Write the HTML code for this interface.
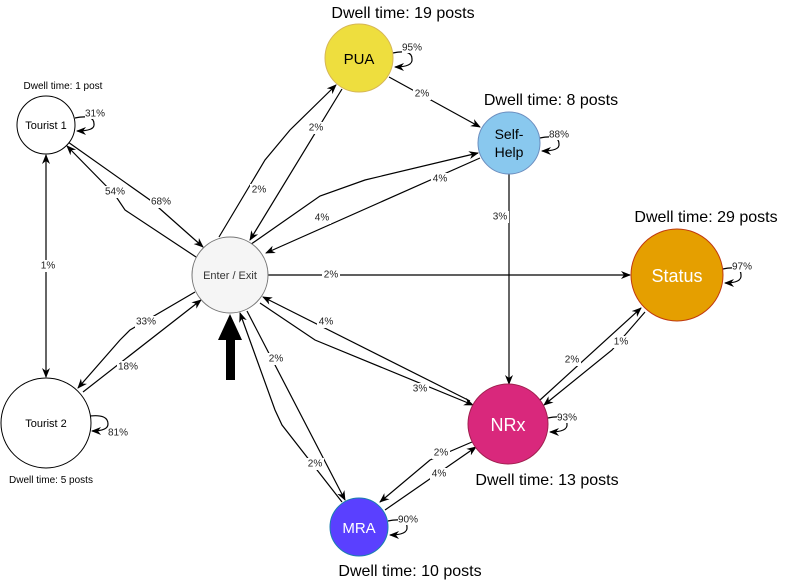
<!DOCTYPE html>
<html><head><meta charset="utf-8"><style>
body{margin:0;background:#fff}
svg{display:block;font-family:"Liberation Sans",Arial,sans-serif}
.e{fill:none;stroke:#000;stroke-width:1.2}
.l{font-size:10px;fill:#222;text-anchor:middle;dominant-baseline:middle}
.d{font-size:16px;fill:#000;text-anchor:middle}
</style></head><body>
<svg width="789" height="581" viewBox="0 0 789 581">
<defs>
<marker id="a" markerWidth="10" markerHeight="10" refX="9" refY="5" orient="auto" markerUnits="userSpaceOnUse">
<path d="M0,1 L10,5 L0,9 L3,5 Z" fill="#000"/></marker>
<marker id="s" markerWidth="10" markerHeight="10" refX="1" refY="5" orient="auto" markerUnits="userSpaceOnUse">
<path d="M10,1 L0,5 L10,9 L7,5 Z" fill="#000"/></marker>
</defs>

<!-- edges -->
<polyline class="e" points="68,142 150,200 203,247" marker-end="url(#a)"/>
<polyline class="e" points="196,257 125,210 115,195 67,146" marker-end="url(#a)"/>
<line class="e" x1="46" y1="155" x2="46" y2="377" marker-start="url(#s)" marker-end="url(#a)"/>
<polyline class="e" points="195,292 130,330 120,340 78,388" marker-end="url(#a)"/>
<line class="e" x1="83" y1="392" x2="201" y2="300" marker-end="url(#a)"/>
<polyline class="e" points="219,237 265,160 290,130 336,85" marker-end="url(#a)"/>
<line class="e" x1="342" y1="89" x2="250" y2="240" marker-end="url(#a)"/>
<line class="e" x1="389" y1="77" x2="480" y2="127" marker-end="url(#a)"/>
<polyline class="e" points="247,247 320,196 365,180 478,153" marker-end="url(#a)"/>
<line class="e" x1="480" y1="158" x2="266" y2="253" marker-end="url(#a)"/>
<line class="e" x1="509" y1="174" x2="509" y2="384" marker-end="url(#a)"/>
<line class="e" x1="268" y1="275" x2="630" y2="275" marker-end="url(#a)"/>
<line class="e" x1="470" y1="401" x2="263" y2="297" marker-end="url(#a)"/>
<polyline class="e" points="260,303 315,340 473,405" marker-end="url(#a)"/>
<line class="e" x1="247" y1="311" x2="345" y2="500" marker-end="url(#a)"/>
<polyline class="e" points="342,502 282,425 275,410 240,313" marker-end="url(#a)"/>
<polyline class="e" points="472,442 430,460 380,502" marker-end="url(#a)"/>
<line class="e" x1="385" y1="510" x2="476" y2="447" marker-end="url(#a)"/>
<line class="e" x1="540" y1="400" x2="641" y2="308" marker-end="url(#a)"/>
<polyline class="e" points="645,312 612,350 544,405" marker-end="url(#a)"/>

<!-- self loops -->
<path class="e" d="M75,118 Q94,114 94,124 Q95,131 77,131" marker-end="url(#a)"/>
<path class="e" d="M90,416 Q108,414 108,424 Q108,431 92,431" marker-end="url(#a)"/>
<path class="e" d="M393,53 Q412,49 412,59 Q413,67 395,67" marker-end="url(#a)"/>
<path class="e" d="M540,138 Q559,134 559,144 Q560,151 542,151" marker-end="url(#a)"/>
<path class="e" d="M723,269 Q741,265 741,275 Q742,283 725,283" marker-end="url(#a)"/>
<path class="e" d="M548,418 Q567,414 567,424 Q568,432 550,432" marker-end="url(#a)"/>
<path class="e" d="M388,521 Q407,517 407,527 Q408,535 390,535" marker-end="url(#a)"/>

<!-- nodes -->
<circle cx="46" cy="125" r="29" fill="#fff" stroke="#000"/>
<circle cx="46" cy="423" r="45" fill="#fff" stroke="#000"/>
<circle cx="230" cy="275" r="38" fill="#f5f5f5" stroke="#777"/>
<circle cx="359" cy="58" r="34" fill="#eede3e" stroke="#d6b656"/>
<circle cx="509" cy="143" r="31" fill="#89c8ee" stroke="#6c8ebf"/>
<circle cx="677" cy="275" r="46" fill="#e59f00" stroke="#c0390f"/>
<circle cx="508" cy="424" r="40" fill="#d9287c" stroke="#a0204f"/>
<circle cx="359" cy="527" r="29" fill="#5a40ff" stroke="#1a7fb0"/>

<text x="46" y="129" font-size="11" text-anchor="middle">Tourist 1</text>
<text x="46" y="427" font-size="11" text-anchor="middle">Tourist 2</text>
<text x="230" y="279" font-size="11" fill="#333" text-anchor="middle">Enter / Exit</text>
<text x="359" y="64" font-size="15" text-anchor="middle">PUA</text>
<text x="509" y="139" font-size="14" text-anchor="middle">Self-</text>
<text x="509" y="157" font-size="14" text-anchor="middle">Help</text>
<text x="677" y="282" font-size="18" fill="#fff" text-anchor="middle">Status</text>
<text x="508" y="431" font-size="18" fill="#fff" text-anchor="middle">NRx</text>
<text x="359" y="533" font-size="15" fill="#fff" text-anchor="middle">MRA</text>

<rect x="226" y="334" width="9" height="46" fill="#000"/>
<path d="M218,340 L230,314 L242,340 Z" fill="#000"/>

<!-- labels -->
<g>
<rect x="36" y="260" width="20" height="12" fill="#fff"/><text class="l" x="48" y="266">1%</text>
<rect x="150" y="196" width="22" height="12" fill="#fff"/><text class="l" x="161" y="202">68%</text>
<rect x="103" y="186" width="22" height="12" fill="#fff"/><text class="l" x="115" y="192">54%</text>
<rect x="135" y="316" width="22" height="12" fill="#fff"/><text class="l" x="146" y="322">33%</text>
<rect x="117" y="361" width="22" height="12" fill="#fff"/><text class="l" x="128" y="367">18%</text>
<rect x="250" y="184" width="18" height="12" fill="#fff"/><text class="l" x="259" y="190">2%</text>
<rect x="307" y="122" width="18" height="12" fill="#fff"/><text class="l" x="316" y="128">2%</text>
<rect x="413" y="88" width="18" height="12" fill="#fff"/><text class="l" x="422" y="94">2%</text>
<rect x="313" y="212" width="18" height="12" fill="#fff"/><text class="l" x="322" y="218">4%</text>
<rect x="431" y="173" width="18" height="12" fill="#fff"/><text class="l" x="440" y="179">4%</text>
<rect x="491" y="211" width="18" height="12" fill="#fff"/><text class="l" x="500" y="217">3%</text>
<rect x="322" y="269" width="18" height="12" fill="#fff"/><text class="l" x="331" y="275">2%</text>
<rect x="317" y="316" width="18" height="12" fill="#fff"/><text class="l" x="326" y="322">4%</text>
<rect x="411" y="383" width="18" height="12" fill="#fff"/><text class="l" x="420" y="389">3%</text>
<rect x="267" y="353" width="18" height="12" fill="#fff"/><text class="l" x="276" y="359">2%</text>
<rect x="306" y="458" width="18" height="12" fill="#fff"/><text class="l" x="315" y="464">2%</text>
<rect x="432" y="447" width="18" height="12" fill="#fff"/><text class="l" x="441" y="453">2%</text>
<rect x="430" y="468" width="18" height="12" fill="#fff"/><text class="l" x="439" y="474">4%</text>
<rect x="563" y="354" width="18" height="12" fill="#fff"/><text class="l" x="572" y="360">2%</text>
<rect x="612" y="336" width="18" height="12" fill="#fff"/><text class="l" x="621" y="342">1%</text>
<rect x="85" y="108" width="21" height="11" fill="#fff"/><text class="l" x="95" y="114">31%</text>
<rect x="108" y="427" width="21" height="11" fill="#fff"/><text class="l" x="118" y="433">81%</text>
<rect x="402" y="42" width="21" height="11" fill="#fff"/><text class="l" x="412" y="48">95%</text>
<rect x="549" y="129" width="21" height="11" fill="#fff"/><text class="l" x="559" y="135">88%</text>
<rect x="732" y="261" width="21" height="11" fill="#fff"/><text class="l" x="742" y="267">97%</text>
<rect x="557" y="412" width="21" height="11" fill="#fff"/><text class="l" x="567" y="418">93%</text>
<rect x="398" y="514" width="21" height="11" fill="#fff"/><text class="l" x="408" y="520">90%</text>
</g>

<text x="63" y="89" font-size="10" text-anchor="middle">Dwell time: 1 post</text>
<text x="51" y="483" font-size="10" text-anchor="middle">Dwell time: 5 posts</text>
<text class="d" x="403" y="18">Dwell time: 19 posts</text>
<text class="d" x="551" y="105">Dwell time: 8 posts</text>
<text class="d" x="706" y="222">Dwell time: 29 posts</text>
<text class="d" x="547" y="485">Dwell time: 13 posts</text>
<text class="d" x="410" y="576">Dwell time: 10 posts</text>
</svg>
</body></html>
